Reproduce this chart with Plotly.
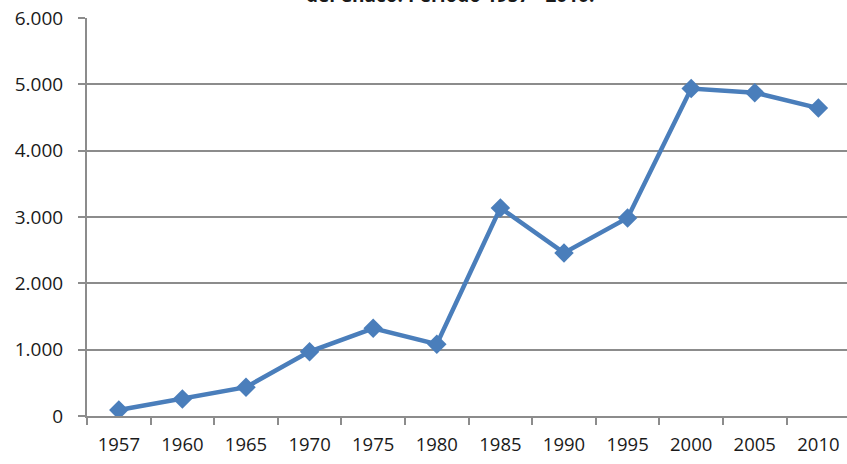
import plotly.graph_objects as go

years = ["1957", "1960", "1965", "1970", "1975", "1980", "1985", "1990", "1995", "2000", "2005", "2010"]
values = [90, 255, 435, 970, 1322, 1083, 3137, 2458, 2985, 4937, 4875, 4642]
y_ticks = [0, 1000, 2000, 3000, 4000, 5000, 6000]
title_text = "del Chaco. Período 1957 - 2010."

blue = "#4A7EBB"
grid = "#8C8C8C"
font_family = "Open Sans"

fig = go.Figure()
fig.add_trace(go.Scatter(
    x=years, y=values, mode="lines+markers",
    line=dict(color=blue, width=4.5),
    marker=dict(symbol="diamond", size=15, color=blue, line=dict(width=0)),
    showlegend=False, hoverinfo="x+y",
))

fig.update_layout(
    width=847, height=464,
    margin=dict(l=87, r=0, t=18, b=48, autoexpand=False),
    paper_bgcolor="white", plot_bgcolor="white",
    separators=",.",
    font=dict(family=font_family, color="#1a1a1a", size=17),
    xaxis=dict(
        type="category", range=[-0.5, 11.45], automargin=False,
        showline=True, linecolor=grid, linewidth=2,
        ticks="outside", tickson="boundaries", ticklen=7, tickcolor=grid, tickwidth=1.5,
        showgrid=False, tickfont=dict(size=18.5, family=font_family, color="#1a1a1a"),
        ticklabelstandoff=11,
    ),
    yaxis=dict(
        range=[0, 6000], tickvals=y_ticks, tickformat=",d", automargin=False,
        showline=True, linecolor=grid, linewidth=2,
        ticks="outside", ticklen=7, tickcolor=grid, tickwidth=1.5,
        showgrid=True, gridcolor=grid, gridwidth=1.5,
        zeroline=False, tickfont=dict(size=19, family=font_family, color="#1a1a1a"),
        ticklabelstandoff=11,
    ),
    annotations=[dict(
        text="<b>" + title_text + "</b>", xref="paper", yref="paper",
        x=(450 - 87) / 760, y=(416 - 10) / 398, xanchor="center", yanchor="bottom",
        showarrow=False, font=dict(size=19, family=font_family, color="#1a1a1a"),
    )],
)

fig.write_html(
    "out.html",
    config={"displayModeBar": False},
    post_script="document.body.style.margin='0';document.body.style.overflow='hidden';",
)
